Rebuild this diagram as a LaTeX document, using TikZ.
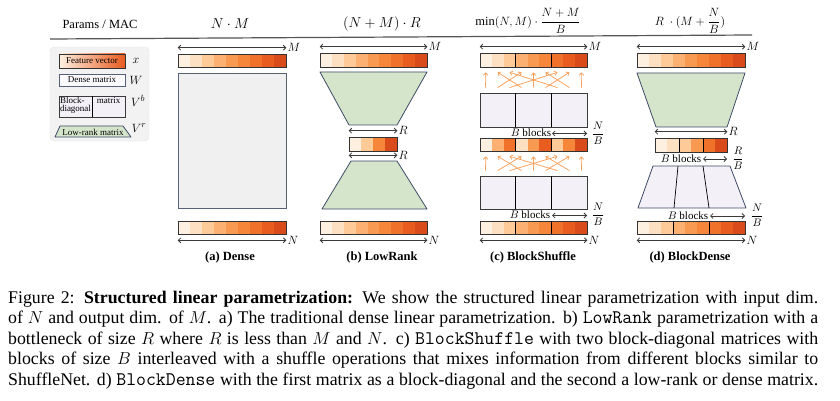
\documentclass[tikz,border=0pt]{standalone}
\usepackage{fontspec}
\setmainfont{Liberation Serif}
\setmonofont{Latin Modern Mono}[Scale=1.08]
\usetikzlibrary{arrows.meta,fit,calc}
\definecolor{c1}{HTML}{FEF0E1}
\definecolor{c2}{HTML}{FDDFC2}
\definecolor{c3}{HTML}{FDCA98}
\definecolor{c4}{HTML}{FCB071}
\definecolor{c5}{HTML}{F99A52}
\definecolor{c6}{HTML}{F6863A}
\definecolor{c7}{HTML}{F07129}
\definecolor{c8}{HTML}{E85C20}
\definecolor{c9}{HTML}{DA4B1C}
\definecolor{densefill}{HTML}{F0F0F0}
\definecolor{denseborder}{HTML}{56627A}
\definecolor{lrfill}{HTML}{D5E5CB}
\definecolor{lrborder}{HTML}{3F4B66}
\definecolor{bdfill}{HTML}{F4F0F8}
\definecolor{shuf}{HTML}{F9A05A}
\definecolor{legbg}{HTML}{F2F2F2}
\definecolor{dimgray}{HTML}{3A3A3A}
\definecolor{vecborder}{HTML}{333333}
\definecolor{headline}{HTML}{555555}
\newcommand{\featvec}[7]{%
  \foreach \cc [count=\i from 0] in {#7} {
    \fill[\cc] ({#2+\i*(#4-#2)/#6},#3) rectangle ({#2+(\i+1)*(#4-#2)/#6},#5);
  }
  \node[draw=vecborder, line width=0.6pt, inner sep=0pt, fit={(#2,#3) (#4,#5)}] (#1) {};
}
\begin{document}
\begin{tikzpicture}[x=1pt,y=-1pt,
  dimarr/.style={{Straight Barb[length=2.5pt,width=5pt]}-{Straight Barb[length=2.5pt,width=5pt]}, line width=0.8pt, draw=dimgray},
  dimlabel/.style={font=\fontsize{12}{14}\selectfont, inner sep=1pt, anchor=west},
  fraclabel/.style={font=\fontsize{11}{13}\selectfont, inner sep=0pt},
  blabel/.style={font=\fontsize{11}{13}\selectfont, inner sep=0pt},
  shufarr/.style={-{Straight Barb[length=2.5pt,width=4.5pt]}, line width=0.75pt, draw=shuf},
  denseshape/.style={draw=denseborder, fill=densefill, line width=0.8pt},
  lrshape/.style={draw=lrborder, fill=lrfill, line width=0.8pt, line join=round},
  bdshape/.style={draw=dimgray, fill=bdfill, line width=0.8pt},
  bdtrap/.style={draw=lrborder, fill=bdfill, line width=0.8pt, line join=round},
  divider/.style={draw=black, line width=0.7pt},
  legtext/.style={font=\fontsize{9}{10}\selectfont, inner sep=0.5pt},
  leglabel/.style={font=\fontsize{13}{15}\selectfont, inner sep=0pt},
  headtext/.style={font=\fontsize{12.5}{15}\selectfont, inner sep=0pt},
  subcap/.style={font=\fontsize{12.5}{15}\selectfont\bfseries, inner sep=0pt}
]
\useasboundingbox[fill=white] (0,0) rectangle (840,401);

% ---------------- header ----------------
\node[headtext] (hp) at (100,24) {Params / MAC};
\node[headtext, font=\fontsize{13.5}{15}\selectfont] (ha) at (230,24) {$N\cdot M$};
\node[headtext, font=\fontsize{13.5}{15}\selectfont] (hb) at (382,24) {$(N+M)\cdot R$};
\node[headtext] (hc) at (528,21) {$\min(N,M)\cdot\displaystyle\frac{N+M}{B}$};
\node[headtext] (hd) at (690,21) {$R\ \cdot(M+\displaystyle\frac{N}{B})$};
\coordinate (hl1) at (50,39);
\coordinate (hl2) at (752,35);
\draw[headline, line width=1.2pt] (hl1) -- (hl2);

% ---------------- legend ----------------
\draw[fill=legbg, draw=gray!45, densely dotted, rounded corners=4pt] (50,47) rectangle (149,141);
\node[legtext, draw=vecborder, line width=0.6pt, left color=c1, right color=c8, minimum width=66pt, minimum height=14pt] (lfv) at (92,61) {Feature vector};
\node[leglabel] (lx) at (136,61) {$x$};
\node[legtext, draw=denseborder, fill=densefill!80!blue!6, line width=0.8pt, minimum width=66pt, minimum height=12pt] (ldm) at (92,80) {Dense matrix};
\node[leglabel] (lw) at (136,80) {$W$};
\draw[bdshape] (59,96) rectangle (125,117);
\draw[divider] (92,96) -- (92,117);
\node[legtext, anchor=north west, align=left] (lbd) at (59.3,96.5) {Block-\\[-1.5pt]diagonal};
\node[legtext, anchor=north] (lbm) at (108.5,97) {matrix};
\node[leglabel] (lvb) at (138,101) {$V^b$};
\draw[lrshape] (60,126) -- (123,126) -- (131,137) -- (55,137) -- cycle;
\node[legtext] (llr) at (93,132) {Low-rank matrix};
\node[leglabel] (lvr) at (139,128) {$V^r$};

% ---------------- (a) Dense ----------------
\featvec{va1}{178}{54}{286}{67}{9}{c1,c2,c3,c4,c5,c6,c7,c8,c9}
\draw[denseshape] (178,73) rectangle (286,208);
\featvec{va2}{178}{221}{286}{234}{9}{c1,c2,c3,c4,c5,c6,c7,c8,c9}
\draw[dimarr] ([yshift=6pt]va1.north west) -- ([yshift=6pt]va1.north east) node[dimlabel] {$M$};
\draw[dimarr] ([yshift=-6pt]va2.south west) -- ([yshift=-6pt]va2.south east) node[dimlabel] {$N$};
\node[subcap] (sa) at (230,257) {(a) Dense};

% ---------------- (b) LowRank ----------------
\featvec{vb1}{320}{53}{427}{67}{9}{c1,c2,c3,c4,c5,c6,c7,c8,c9}
\draw[lrshape] (320,72) -- (427,72) -- (397,125) -- (349,125) -- cycle;
\featvec{vb2}{349}{137}{397}{151}{4}{c1,c3,c6,c9}
\draw[lrshape] (351,161) -- (397,161) -- (427,209) -- (322,209) -- cycle;
\featvec{vb3}{320}{221}{427}{234}{9}{c1,c2,c3,c4,c5,c6,c7,c8,c9}
\draw[dimarr] ([yshift=6pt]vb1.north west) -- ([yshift=6pt]vb1.north east) node[dimlabel] {$M$};
\draw[dimarr] ([yshift=6pt]vb2.north west) -- ([yshift=6pt]vb2.north east) node[dimlabel] {$R$};
\draw[dimarr] ([yshift=-4pt]vb2.south west) -- ([yshift=-4pt]vb2.south east) node[dimlabel] {$R$};
\draw[dimarr] ([yshift=-6pt]vb3.south west) -- ([yshift=-6pt]vb3.south east) node[dimlabel] {$N$};
\node[subcap] (sb) at (382,257) {(b) LowRank};

% ---------------- (c) BlockShuffle ----------------
\featvec{vc1}{480}{53}{587}{67}{9}{c1,c2,c3,c4,c5,c6,c7,c8,c9}
\draw[divider] (515.7,53) -- (515.7,67) (551.3,53) -- (551.3,67);
\node[bdshape, inner sep=0pt, minimum width=107pt, minimum height=34pt] (bc1) at (533.5,110) {};
\draw[divider] (515.7,93) -- (515.7,127) (551.3,93) -- (551.3,127);
\featvec{vc2}{480}{138}{587}{151}{9}{c1,c4,c7,c2,c5,c8,c3,c6,c9}
\draw[divider] (515.7,138) -- (515.7,151) (551.3,138) -- (551.3,151);
\node[bdshape, inner sep=0pt, minimum width=107pt, minimum height=33pt] (bc2) at (533.5,192.5) {};
\draw[divider] (515.7,176) -- (515.7,209) (551.3,176) -- (551.3,209);
\featvec{vc3}{480}{221}{587}{234}{9}{c1,c2,c3,c4,c5,c6,c7,c8,c9}
\draw[divider] (515.7,221) -- (515.7,234) (551.3,221) -- (551.3,234);
% shuffle arrows
\foreach \s in {0,...,8} {
  \pgfmathtruncatemacro{\bb}{int(\s/3)}
  \pgfmathtruncatemacro{\pp}{mod(\s,3)}
  \pgfmathtruncatemacro{\tt}{3*\pp+\bb}
  \draw[shufarr] ($(bc1.north west)!{(\s+0.5)/9}!(bc1.north east)+(0,-5)$) -- ($(vc1.south west)!{(\tt+0.5)/9}!(vc1.south east)+(0,5)$);
  \draw[shufarr] ($(bc2.north west)!{(\s+0.5)/9}!(bc2.north east)+(0,-5)$) -- ($(vc2.south west)!{(\tt+0.5)/9}!(vc2.south east)+(0,5)$);
}
\draw[dimarr] ([yshift=6pt]vc1.north west) -- ([yshift=6pt]vc1.north east) node[dimlabel] {$M$};
\node[blabel] (bcl1) at (531,133) {$B$ blocks};
\draw[dimarr] (552,133.5) -- (587,133.5);
\node[fraclabel] (fc1) at (598,133) {$\displaystyle\frac{N}{B}$};
\node[blabel] (bcl2) at (530,215) {$B$ blocks};
\draw[dimarr] (552,215.5) -- (587,215.5);
\node[fraclabel] (fc2) at (598,214) {$\displaystyle\frac{N}{B}$};
\draw[dimarr] ([yshift=-6pt]vc3.south west) -- ([yshift=-6pt]vc3.south east) node[dimlabel] {$N$};
\node[subcap] (sc) at (533,257) {(c) BlockShuffle};

% ---------------- (d) BlockDense ----------------
\featvec{vd1}{637}{53}{745}{67}{9}{c1,c2,c3,c4,c5,c6,c7,c8,c9}
\draw[lrshape] (637,73) -- (745,73) -- (727,127) -- (656,127) -- cycle;
\featvec{vd2}{655}{138}{727}{152}{6}{c1,c2,c3,c5,c7,c9}
\draw[divider] (679,138) -- (679,152) (703,138) -- (703,152);
\draw[bdtrap] (653,166) -- (730,166) -- (746,208) -- (638,208) -- cycle;
\draw[divider] (678,166) -- (674,208) (703,166) -- (709,208);
\featvec{vd3}{637}{221}{745}{234}{9}{c1,c2,c3,c4,c5,c6,c7,c8,c9}
\draw[divider] (673,221) -- (673,234) (709,221) -- (709,234);
\draw[dimarr] ([yshift=6pt]vd1.north west) -- ([yshift=6pt]vd1.north east) node[dimlabel] {$M$};
\draw[dimarr] ([yshift=6pt]vd2.north west) -- ([yshift=6pt]vd2.north east) node[dimlabel] {$R$};
\node[blabel] (bdl1) at (681,159) {$B$ blocks};
\draw[dimarr] (703,159) -- (727,159);
\node[fraclabel] (fd1) at (738,158) {$\displaystyle\frac{R}{B}$};
\node[blabel] (bdl2) at (688,216) {$B$ blocks};
\draw[dimarr] (710,216) -- (745,216);
\node[fraclabel] (fd2) at (757,215) {$\displaystyle\frac{N}{B}$};
\draw[dimarr] ([yshift=-6pt]vd3.south west) -- ([yshift=-6pt]vd3.south east) node[dimlabel] {$N$};
\node[subcap] (sd) at (690,257) {(d) BlockDense};

% ---------------- caption ----------------
\node[anchor=north west, inner sep=0pt, font=\fontsize{17.8}{20.4}\selectfont] (cap) at (8,291) {\parbox{810pt}{\hyphenpenalty=10000\parfillskip=0pt\emergencystretch=10pt
Figure 2: \textbf{Structured linear parametrization:} We show the structured linear parametrization with input dim.\linebreak
of $N$ and output dim. of $M$. a) The traditional dense linear parametrization. b) \texttt{LowRank} parametrization with a\linebreak
bottleneck of size $R$ where $R$ is less than $M$ and $N$. c) \texttt{BlockShuffle} with two block-diagonal matrices with\linebreak
blocks of size $B$ interleaved with a shuffle operations that mixes information from different blocks similar to\linebreak
ShuffleNet. d) \texttt{BlockDense} with the first matrix as a block-diagonal and the second a low-rank or dense matrix.}};
\end{tikzpicture}
\end{document}
